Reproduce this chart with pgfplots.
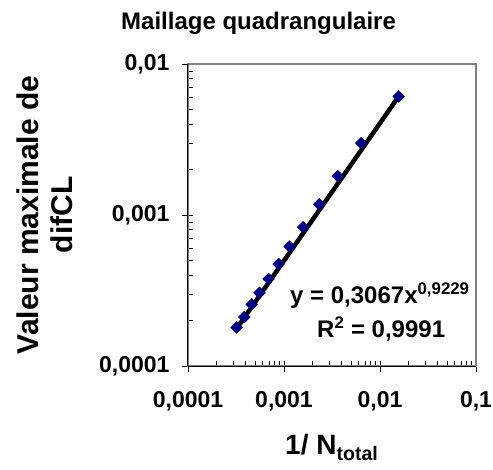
\documentclass[border=0pt]{standalone}
\usepackage{fontspec}
\setmainfont{Liberation Sans}
\usepackage{pgfplots}
\pgfplotsset{compat=1.18}
\definecolor{navy}{RGB}{0,0,128}
\begin{document}
\begin{tikzpicture}[x=1pt,y=1pt]
\useasboundingbox (0,0) rectangle (493,470);
\begin{axis}[
  at={(188pt,104pt)}, anchor=south west,
  scale only axis, width=288pt, height=302pt,
  xmode=log, ymode=log,
  xmin=1e-4, xmax=1e-1, ymin=1e-4, ymax=1e-2,
  xtick={1e-4,1e-3,1e-2,1e-1},
  xticklabels={{0,0001},{0,001},{0,01},{0,1}},
  ytick={1e-4,1e-3,1e-2},
  yticklabels={{0,0001},{0,001},{0,01}},
  xtick pos=bottom, ytick pos=left,
  tick align=inside,
  major tick length=-6pt, minor tick length=5pt,
  tick style={black, line width=0.8pt},
  axis line style={gray, line width=1.5pt},
  ticklabel style={font=\bfseries\fontsize{23}{23}\selectfont},
  xticklabel style={yshift=-22pt},
  yticklabel style={xshift=-15pt},
  clip=false,
]
\draw[black, line width=1pt] (rel axis cs:0,0) -- (rel axis cs:0,1);
\draw[black, line width=1pt] (rel axis cs:0,0) -- (rel axis cs:1,0);
\addplot[only marks, mark=square*, mark size=4.2pt, mark options={rotate=45, fill=navy, draw=navy}] coordinates {
(3.21e-4,1.80e-4)
(3.86e-4,2.11e-4)
(4.61e-4,2.56e-4)
(5.56e-4,3.05e-4)
(6.90e-4,3.77e-4)
(8.79e-4,4.74e-4)
(1.145e-3,6.18e-4)
(1.58e-3,8.30e-4)
(2.33e-3,1.175e-3)
(3.63e-3,1.81e-3)
(6.37e-3,2.99e-3)
(1.566e-2,6.10e-3)
};
\addplot[black, line width=4.5pt, no marks] coordinates {
(3.21e-4,1.77e-4)
(1.566e-2,6.10e-3)
};
\end{axis}
\node[font=\bfseries\fontsize{24}{24}\selectfont, anchor=base west, inner sep=0pt] at (121,440) {Maillage quadrangulaire};
\node[font=\bfseries\fontsize{30}{34}\selectfont, rotate=90, align=center] at (45,255) {Valeur maximale de\\difCL};
\node[font=\bfseries\fontsize{28}{28}\selectfont, anchor=base west, inner sep=0pt] at (285,15) {1/ N\textsubscript{total}};
\node[font=\bfseries\fontsize{24}{24}\selectfont, anchor=base west, inner sep=0pt] at (290,166) {y = 0,3067x\textsuperscript{0,9229}};
\node[font=\bfseries\fontsize{24}{24}\selectfont, anchor=base west, inner sep=0pt] at (317,132) {R\textsuperscript{2} = 0,9991};
\end{tikzpicture}
\end{document}
